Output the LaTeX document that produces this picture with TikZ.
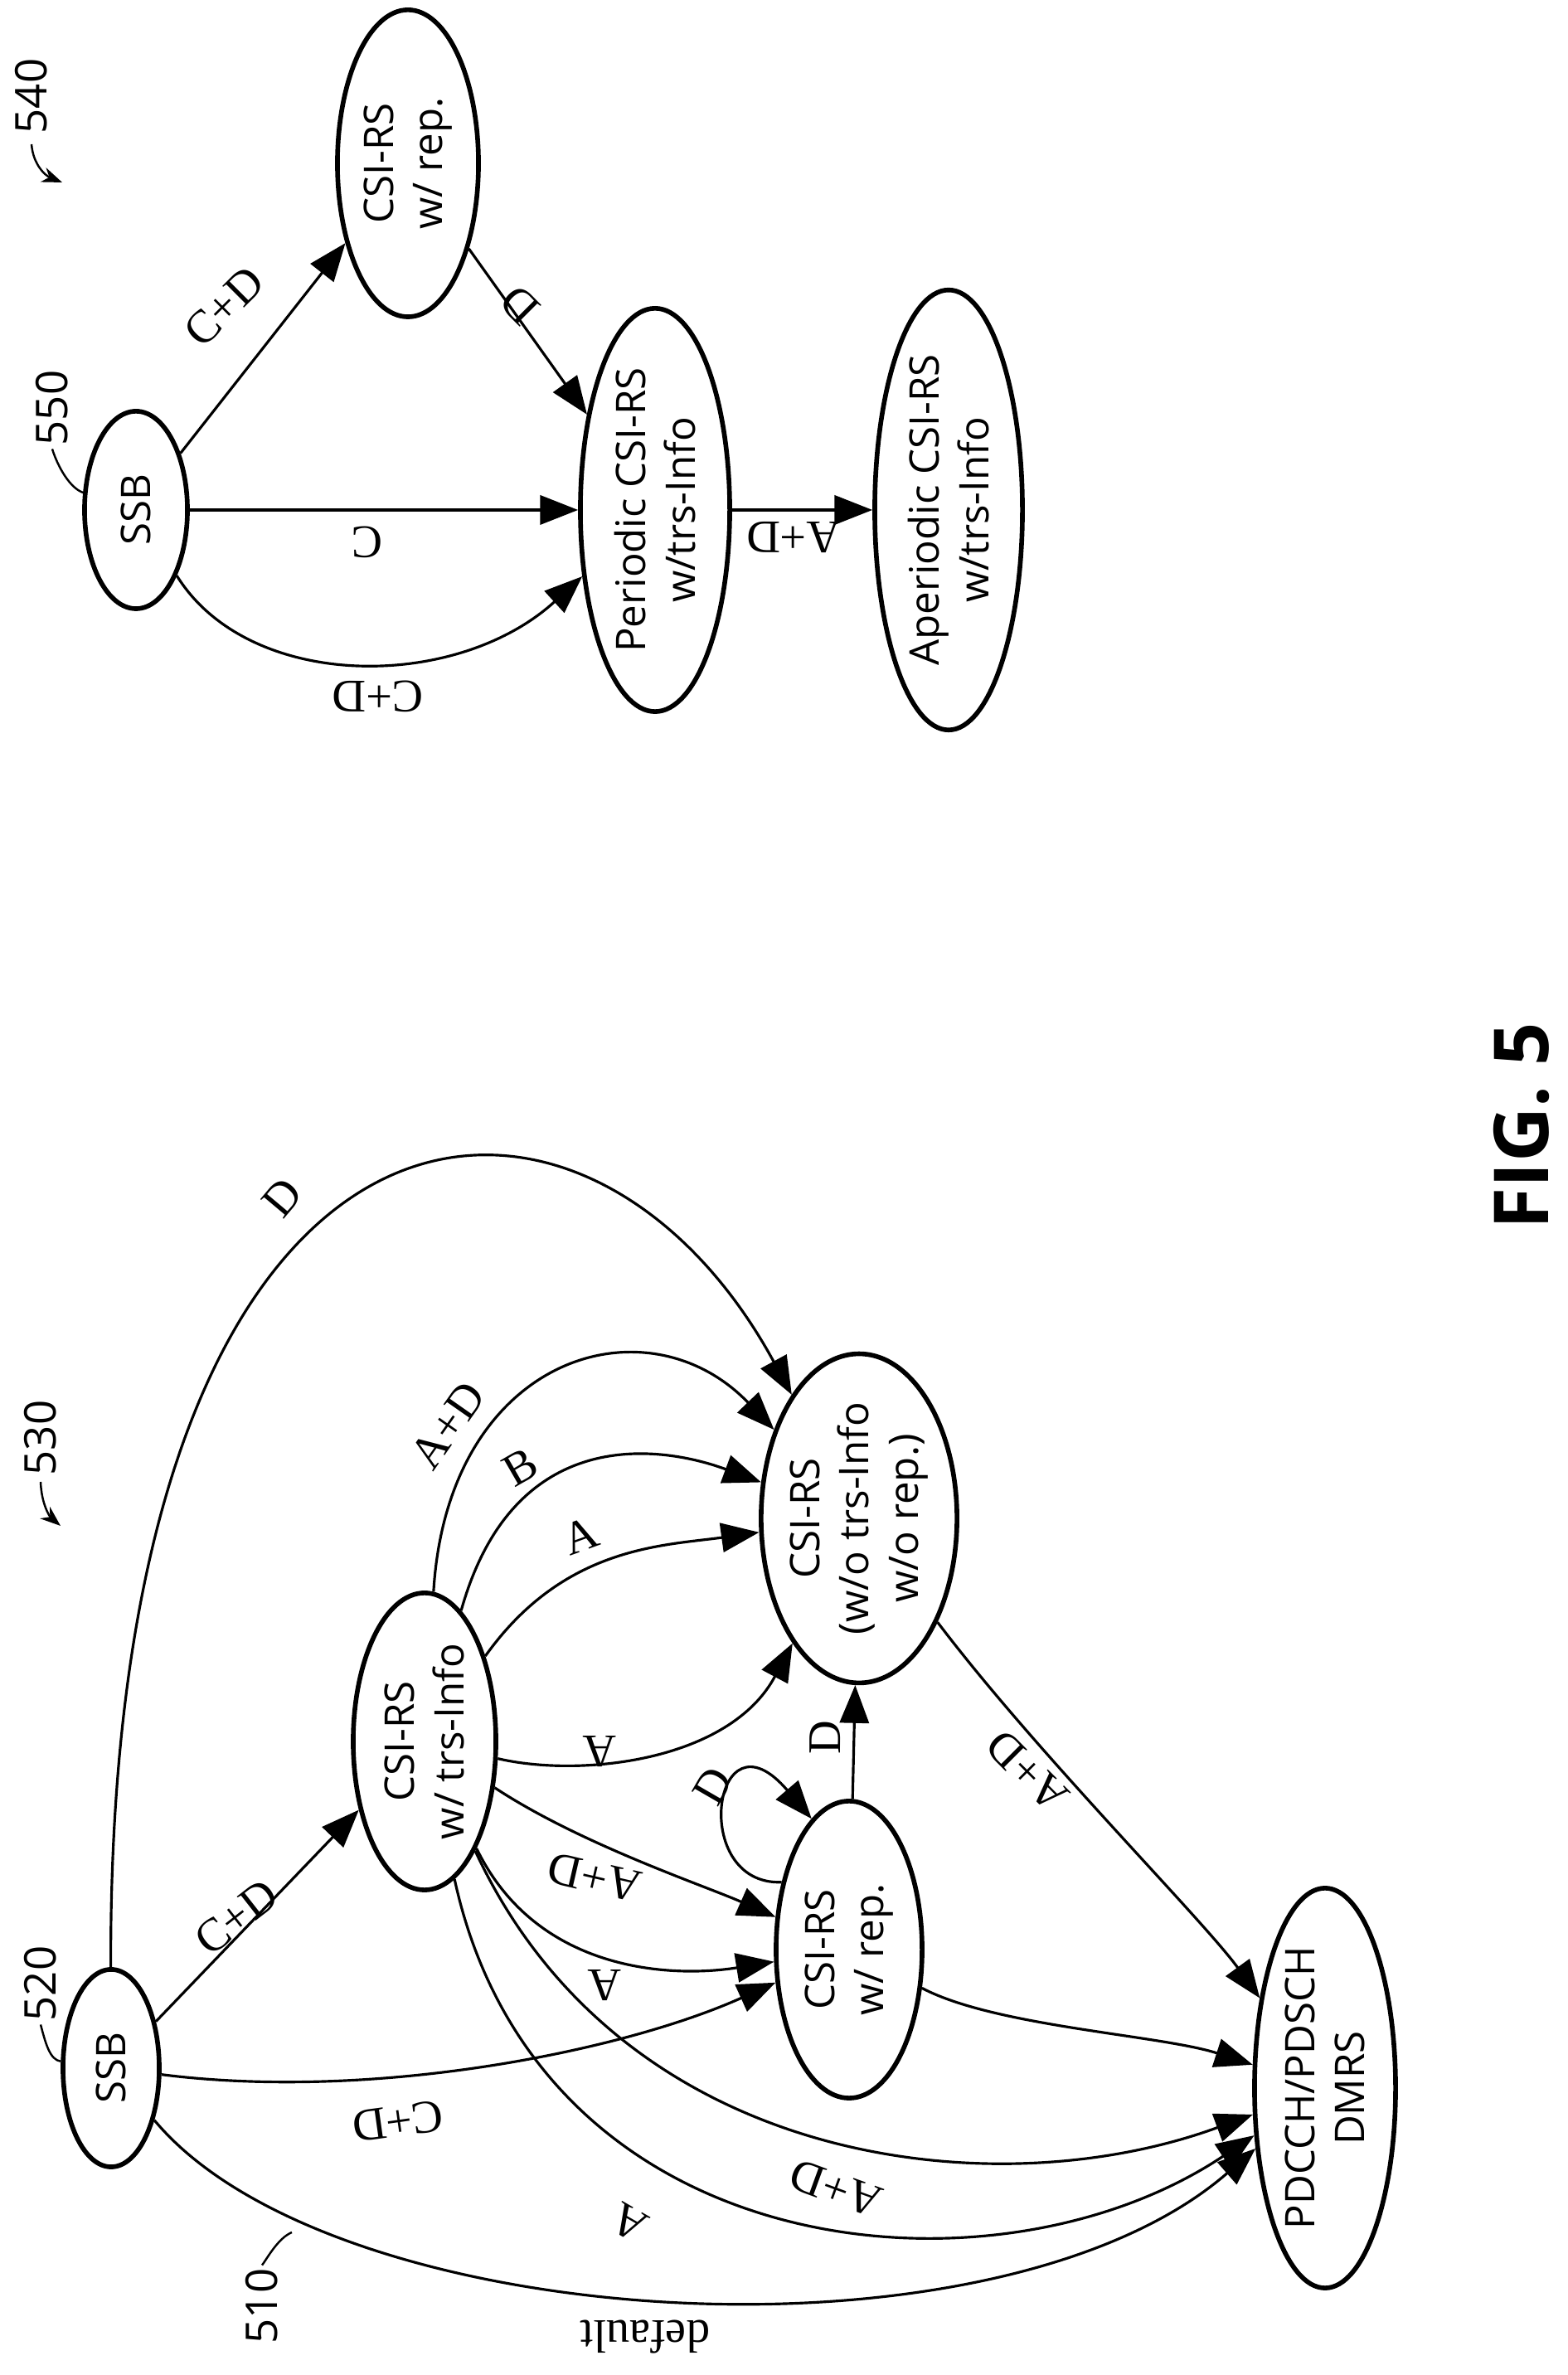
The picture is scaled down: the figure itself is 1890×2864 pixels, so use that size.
\documentclass[tikz,border=0pt]{standalone}
\usepackage{fontspec}
\setmainfont{Liberation Serif}
\setsansfont{Open Sans}
\usetikzlibrary{shapes.geometric,arrows.meta}
\begin{document}
\begin{tikzpicture}[x=0.01cm,y=0.01cm,
  st/.style={draw,ellipse,line width=1.6pt,inner sep=0pt,rotate=90,align=center,font=\sffamily\fontsize{14}{17}\selectfont},
  ed/.style={line width=0.9pt,-{Triangle[length=13pt,width=10pt]}},
  lb/.style={font=\fontsize{16}{18}\selectfont,inner sep=1pt},
  num/.style={font=\sffamily\fontsize{15}{18}\selectfont,rotate=90,inner sep=1pt},
  lead/.style={line width=0.7pt}]
\useasboundingbox (0,0) rectangle (1890,2864);
% left diagram
\node[st,minimum width=2.38cm,minimum height=1.16cm] (lssb) at (134,370) {SSB};
\node[st,minimum width=3.58cm,minimum height=1.72cm] (trs) at (512,764) {CSI-RS\\w/ trs-Info};
\node[st,minimum width=3.58cm,minimum height=1.76cm] (rep) at (1024,513) {CSI-RS\\w/ rep.};
\node[st,minimum width=3.58cm,minimum height=2.0cm] (wo) at (1036,1033) {CSI-RS\\(w/o trs-Info\\w/o rep.)};
\node[st,minimum width=3.58cm,minimum height=1.7cm] (pd) at (1598,346) {PDCCH/PDSCH\\DMRS};
\draw[ed] (lssb) -- (trs);
\draw[ed] (lssb) .. controls (450,330) and (750,390) .. (rep);
\draw[ed] (lssb) .. controls (130,1600) and (700,1650) .. (wo);
\draw[ed] (trs) .. controls (540,1230) and (780,1300) .. (wo);
\draw[ed] (trs) .. controls (620,1150) and (800,1120) .. (wo);
\draw[ed] (trs) .. controls (680,1000) and (800,1000) .. (wo);
\draw[ed] (trs) .. controls (700,720) and (880,740) .. (wo);
\draw[ed] (rep) -- (wo);
\draw[ed] (rep.45) .. controls (830,590) and (860,810) .. (rep.16);
\draw[ed] (trs) .. controls (700,640) and (850,590) .. (rep);
\draw[ed] (trs) .. controls (650,480) and (820,480) .. (rep);
\draw[ed] (trs) .. controls (750,250) and (1200,200) .. (pd);
\draw[ed] (trs) .. controls (650,130) and (1200,80) .. (pd);
\draw[ed] (lssb) .. controls (400,50) and (1200,0) .. (pd);
\draw[ed] (rep) .. controls (1200,420) and (1400,410) .. (pd);
\draw[ed] (wo) .. controls (1250,750) and (1450,550) .. (pd);
\node[lb,rotate=38] (l1) at (285,552) {C+D};
\node[lb,rotate=188] (l2) at (480,306) {C+D};
\node[lb,rotate=50] (l3) at (340,1420) {D};
\node[lb,rotate=55] (l4) at (540,1145) {A+D};
\node[lb,rotate=30] (l5) at (628,1095) {B};
\node[lb,rotate=20] (l6) at (700,1012) {A};
\node[lb,rotate=180] (l7) at (723,752) {A};
\node[lb,rotate=90] (l8) at (995,769) {D};
\node[lb,rotate=60] (l9) at (860,710) {D};
\node[lb,rotate=167] (l10) at (717,600) {A+D};
\node[lb,rotate=180] (l11) at (729,470) {A};
\node[lb,rotate=160] (l12) at (1008,225) {A+D};
\node[lb,rotate=150] (l13) at (759,184) {A};
\node[lb,rotate=180] (l14) at (778,46) {default};
\node[lb,rotate=135] (l15) at (1239,728) {A+D};
\node[num] (n530) at (49,1130) {530};
\draw[lead,-{Stealth[length=7pt]}] (49,1077) .. controls (50,1050) and (60,1035) .. (73,1024);
\node[num] (n520) at (49,472) {520};
\draw[lead] (n520.west) .. controls (55,400) and (60,380) .. (lssb);
\node[num] (n510) at (316,83) {510};
\coordinate (c510) at (352,172);
\draw[lead] (n510.east) .. controls (322,140) and (335,165) .. (c510);
% right diagram
\node[st,minimum width=2.38cm,minimum height=1.24cm] (rssb) at (164,2249) {SSB};
\node[st,minimum width=3.7cm,minimum height=1.7cm] (rrep) at (492,2667) {CSI-RS\\w/ rep.};
\node[st,minimum width=4.86cm,minimum height=1.8cm] (per) at (790,2249) {Periodic CSI-RS\\w/trs-Info};
\node[st,minimum width=4.86cm,minimum height=1.78cm] (aper) at (1144,2249) {Aperiodic CSI-RS\\w/trs-Info};
\draw[ed] (rssb) -- (rrep);
\draw[ed] (rrep) -- (per);
\draw[ed] (rssb) -- (per);
\draw[ed] (rssb) .. controls (300,2030) and (550,2030) .. (per);
\draw[ed] (per) -- (aper);
\node[lb,rotate=45] (r1) at (270,2494) {C+D};
\node[lb,rotate=135] (r2) at (627,2496) {D};
\node[lb,rotate=180] (r3) at (443,2210) {C};
\node[lb,rotate=180] (r4) at (456,2024) {C+D};
\node[lb,rotate=180] (r5) at (957,2216) {A+D};
\node[num] (n540) at (38,2748) {540};
\draw[lead,-{Stealth[length=7pt]}] (38,2690) .. controls (40,2665) and (55,2652) .. (75,2644);
\node[num] (n550) at (63,2372) {550};
\draw[lead] (n550.west) .. controls (70,2300) and (85,2275) .. (rssb);
\node[font=\sffamily\bfseries\fontsize{26}{30}\selectfont,rotate=90] (fig) at (1835,1506) {FIG. 5};
\end{tikzpicture}
\end{document}
